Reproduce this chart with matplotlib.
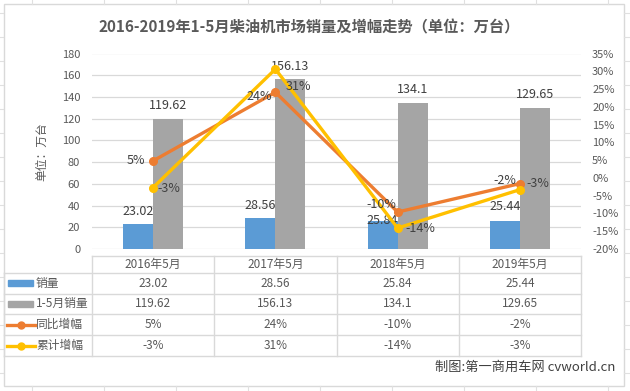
import numpy as np
import matplotlib
matplotlib.use("Agg")
import matplotlib.pyplot as plt
import matplotlib.patches as patches
from matplotlib.ticker import FuncFormatter

plt.rcParams['font.family'] = ['Noto Sans CJK SC', 'DejaVu Sans']

# data
categories = ["2016年5月", "2017年5月", "2018年5月", "2019年5月"]
may_sales = [23.02, 28.56, 25.84, 25.44]
jan_may_sales = [119.62, 156.13, 134.1, 129.65]
yoy_growth = [0.048, 0.241, -0.096, -0.016]
cum_growth = [-0.027, 0.306, -0.141, -0.033]
series_names = ["销量", "1-5月销量", "同比增幅", "累计增幅"]

TXT = "#595959"
GRID = "#d9d9d9"
C_BLUE = "#5B9BD5"
C_GRAY = "#A5A5A5"
C_ORANGE = "#ED7D31"
C_YELLOW = "#FFC000"

W, H = 630, 391
fig = plt.figure(figsize=(W / 100, H / 100), dpi=100)
fig.patch.set_facecolor("white")

# overlay in pixel coordinates for border, table, notes
ov = fig.add_axes([0, 0, 1, 1], zorder=0)
ov.set_xlim(0, W)
ov.set_ylim(H, 0)
ov.axis('off')

# spreadsheet grid outside the chart
for x in np.arange(32, W, 72):
    ov.plot([x, x], [0, 3.5], color="#e0e0e0", lw=0.8)
    ov.plot([x, x], [386, H], color="#e0e0e0", lw=0.8)
for y in np.arange(13, H, 24):
    ov.plot([0, 3], [y, y], color="#e0e0e0", lw=0.8)
    ov.plot([624, W], [y, y], color="#e0e0e0", lw=0.8)
ov.add_patch(patches.Rectangle((3.5, 3.5), 620, 382, facecolor="white",
                               edgecolor=GRID, lw=1))

# plot area
PL, PR, PT, PB = 92, 581, 53.5, 249
ax = fig.add_axes([PL / W, 1 - PB / H, (PR - PL) / W, (PB - PT) / H], zorder=1)
ax.patch.set_alpha(0)
x = np.arange(len(categories))
bw = 0.245
b1 = ax.bar(x - bw / 2, may_sales, bw, color=C_BLUE, zorder=2)
b2 = ax.bar(x + bw / 2, jan_may_sales, bw, color=C_GRAY, zorder=2)
ax.set_xlim(-0.5, len(categories) - 0.5)
ax.set_ylim(0, 180)
ax.set_yticks(np.arange(0, 181, 20))
ax.set_xticks([])
ax.yaxis.grid(True, color=GRID, lw=0.9, zorder=0)
ax.set_axisbelow(True)
for s in ax.spines.values():
    s.set_visible(False)
ax.tick_params(axis='y', length=0, labelsize=8, labelcolor=TXT, pad=8.5)
ax.set_ylabel("单位：万台", color=TXT, fontsize=8.5, labelpad=10)

ax2 = ax.twinx()
ax2.set_ylim(-0.20, 0.35)
ax2.set_yticks(np.arange(-0.20, 0.351, 0.05))
ax2.yaxis.set_major_formatter(FuncFormatter(lambda v, p: f"{int(round(v * 100))}%"))
for s in ax2.spines.values():
    s.set_visible(False)
ax2.tick_params(axis='y', length=0, labelsize=8, labelcolor=TXT, pad=8)
ax2.plot(x, yoy_growth, color=C_ORANGE, lw=2.4, marker='o', ms=5.5, zorder=3)
ax2.plot(x, cum_growth, color=C_YELLOW, lw=2.4, marker='o', ms=5.5, zorder=4)

# data labels
blue_off = [12, 12, 0, 15]
gray_off = [14, 13, 14, 14]
for i in range(len(categories)):
    ax.annotate(f"{may_sales[i]:g}", (x[i] - bw / 2, may_sales[i]), xytext=(0, blue_off[i]),
                textcoords='offset pixels', ha='center', va='center', fontsize=9, color="#404040")
    ax.annotate(f"{jan_may_sales[i]:g}", (x[i] + bw / 2, jan_may_sales[i]), xytext=(0, gray_off[i]),
                textcoords='offset pixels', ha='center', va='center', fontsize=9, color="#404040")

yoy_off = [(-17, 0), (-16, -4), (-16, 8), (-15, 3)]
cum_off = [(16, -1), (23, -17), (23, 0), (18, 6)]
for i in range(len(categories)):
    ax2.annotate(f"{int(round(yoy_growth[i] * 100))}%", (x[i], yoy_growth[i]), xytext=yoy_off[i],
                 textcoords='offset pixels', ha='center', va='center', fontsize=9, color="#404040",
                 zorder=6)
    ax2.annotate(f"{int(round(cum_growth[i] * 100))}%", (x[i], cum_growth[i]), xytext=cum_off[i],
                 textcoords='offset pixels', ha='center', va='center', fontsize=9, color="#404040",
                 zorder=6)

# title
ov.text(309, 27, "2016-2019年1-5月柴油机市场销量及增幅走势（单位：万台）", ha='center', va='center',
        fontsize=11, fontweight='bold', color=TXT)

# data table
col_w = (PR - PL) / len(categories)
edges = [PL + i * col_w for i in range(len(categories) + 1)]
rows = [256, 273, 293.5, 314, 335, 356]
TL = 4
ov.plot([PL, PR], [rows[0], rows[0]], color=GRID, lw=1)
for r in rows[1:]:
    ov.plot([TL, PR], [r, r], color=GRID, lw=1)
ov.plot([TL, TL], [rows[1], rows[-1]], color=GRID, lw=1)
for e in edges:
    ov.plot([e, e], [rows[0], rows[-1]], color=GRID, lw=1)

for i, c in enumerate(categories):
    ov.text((edges[i] + edges[i + 1]) / 2, (rows[0] + rows[1]) / 2, c, ha='center', va='center',
            fontsize=8.5, color=TXT)

table_vals = [
    [f"{v:g}" for v in may_sales],
    [f"{v:g}" for v in jan_may_sales],
    [f"{int(round(v * 100))}%" for v in yoy_growth],
    [f"{int(round(v * 100))}%" for v in cum_growth],
]
colors = [C_BLUE, C_GRAY, C_ORANGE, C_YELLOW]
for r in range(4):
    cy = (rows[r + 1] + rows[r + 2]) / 2
    if r < 2:
        ov.add_patch(patches.Rectangle((8, cy - 3), 25, 6, color=colors[r]))
    else:
        ov.plot([7, 35], [cy, cy], color=colors[r], lw=2.4)
        ov.plot([21], [cy], marker='o', ms=5, color=colors[r])
    ov.text(36, cy, series_names[r], ha='left', va='center', fontsize=8.5, color=TXT)
    for i in range(len(categories)):
        ov.text((edges[i] + edges[i + 1]) / 2, cy, table_vals[r][i], ha='center', va='center',
                fontsize=8.5, color=TXT)

ov.text(615, 367, "制图:第一商用车网 cvworld.cn", ha='right', va='center', fontsize=9.5, color="#404040")

fig.savefig("out.png", dpi=100)
